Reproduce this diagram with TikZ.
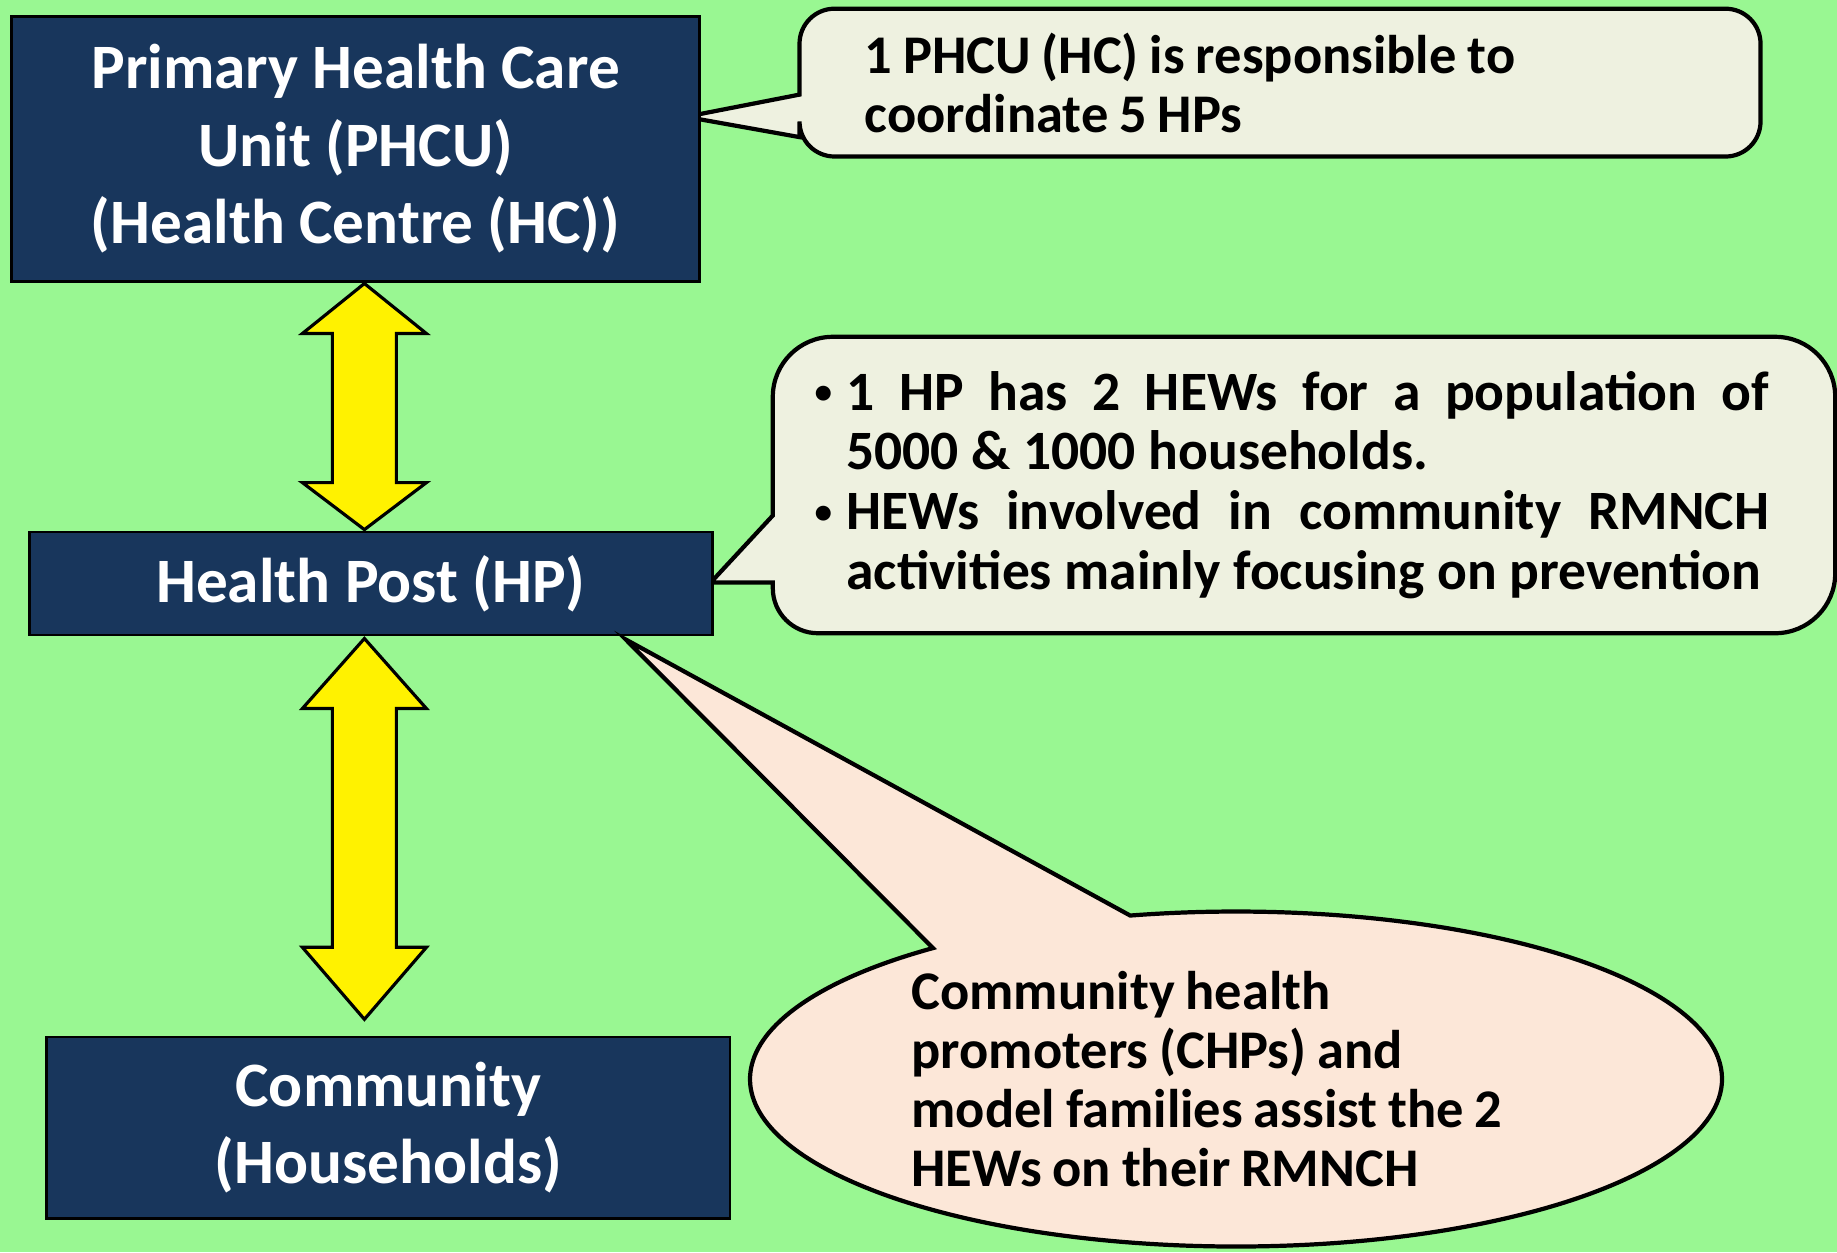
\documentclass[tikz,border=0pt]{standalone}
\usepackage{fontspec}
\setmainfont{Carlito}
\usepackage{tikz}
\usetikzlibrary{calc,shapes.callouts,backgrounds}
\definecolor{bggreen}{RGB}{153,247,146}
\definecolor{navy}{RGB}{24,54,92}
\definecolor{notefill}{RGB}{238,241,224}
\definecolor{peach}{RGB}{252,231,216}
\newcommand{\itembullet}{\makebox[0.32cm][l]{\raisebox{0.12em}{\fontsize{10}{10}\selectfont\textbullet}}}
\newcommand{\tightsp}{\spaceskip=0.2em plus 0.1em minus 0.05em\relax}

\begin{document}
\begin{tikzpicture}
    [level/.style={draw=black, line width=0.8pt, fill=navy, text=white, align=center,
       inner sep=0pt, font=\fontsize{18}{22}\selectfont\bfseries},
     note/.style={inner sep=0pt, font=\fontsize{15.5}{16.8}\selectfont\bfseries},
     bubble/.style={draw=black, line width=1.2pt, fill=notefill},
     yarrow/.style={draw=black, line width=0.9pt, fill=yellow, line join=miter}]
    \useasboundingbox (0,0) rectangle (18.37,-12.52);
    % background
    \begin{scope}[on background layer]
      \fill[bggreen] (0,0) rectangle (18.37,-12.52);
    \end{scope}
    % levels
    \node[level, minimum width=6.877cm, minimum height=2.648cm] (phcu) at (3.556,-1.488)
      {Primary Health Care\\Unit (PHCU)\\(Health Centre (HC))};
    \node[level, minimum width=6.830cm, minimum height=1.031cm] (hp) at (3.708,-5.835)
      {Health Post (HP)};
    \node[level, minimum width=6.830cm, minimum height=1.816cm] (comm) at (3.884,-11.277)
      {Community\\(Households)};
    % double arrows
    \coordinate (t1) at (3.644,-2.835);
    \coordinate (b1) at (3.644,-5.296);
    \coordinate (t2) at (3.644,-6.385);
    \coordinate (b2) at (3.644,-10.193);
    \draw[yarrow] (t1) -- ++(0.62,-0.50) -- ++(-0.30,0) -- ($(b1)+(0.32,0.47)$) -- ++(0.30,0)
      -- (b1) -- ++(-0.62,0.47) -- ++(0.30,0) -- ($(t1)+(-0.32,-0.50)$) -- ++(-0.30,0) -- cycle;
    \draw[yarrow] (t2) -- ++(0.62,-0.70) -- ++(-0.30,0) -- ($(b2)+(0.32,0.72)$) -- ++(0.30,0)
      -- (b2) -- ++(-0.62,0.72) -- ++(0.30,0) -- ($(t2)+(-0.32,-0.70)$) -- ++(-0.30,0) -- cycle;
    % note for PHCU
    \coordinate (tip1) at ($(phcu.east)+(-0.15,0.32)$);
    \node[note, minimum width=9.596cm, minimum height=1.464cm, inner xsep=0.644cm,
      text width=8.308cm, align=left] (note1) at (12.80,-0.826)
      {\tightsp 1 PHCU (HC) is responsible to\\coordinate 5 HPs};
    \begin{scope}[on background layer]
      \draw[bubble] (tip1) -- ($(note1.west)+(0,-0.12)$)
        {[rounded corners=0.35cm] -- (note1.north west) -- (note1.north east)
         -- (note1.south east) -- (note1.south west)} -- ($(note1.west)+(0,-0.545)$) -- cycle;
    \end{scope}
    % note for HP
    \coordinate (tip2) at ($(hp.east)+(-0.03,0.01)$);
    \node[note, font=\fontsize{15.8}{17}\selectfont\bfseries, minimum width=10.61cm,
      minimum height=2.95cm, inner xsep=0.41cm, text width=9.79cm, align=justify] (note2) at (13.04,-4.85)
      {\rightskip=0.245cm\relax
       \hangindent=0.32cm\hangafter=1\noindent\itembullet 1 HP has 2 HEWs
       for a population of\linebreak 5000 \& 1000 households.\par
       \hangindent=0.32cm\hangafter=1\noindent\itembullet HEWs involved in
       community RMNCH\linebreak activities mainly focusing on prevention\par};
    \begin{scope}[on background layer]
      \draw[bubble] (tip2) -- ($(note2.west)+(0,-0.305)$)
        {[rounded corners=0.6cm] -- (note2.north west) -- (note2.north east)
         -- (note2.south east)} {[rounded corners=0.45cm] -- (note2.south west)}
        -- ($(note2.west)+(0,-0.975)$) -- cycle;
    \end{scope}
    % note for community
    \coordinate (tip3) at ($(hp.south east)+(-0.88,-0.03)$);
    \node[note, ellipse callout, draw=black, line width=1.2pt, fill=peach,
      minimum width=9.72cm, minimum height=3.35cm, text width=6.49cm, align=left,
      callout absolute pointer=(tip3), callout pointer arc=26] (note3) at (12.36,-10.79)
      {\tightsp Community health\\promoters (CHPs) and\\model families assist the 2\\HEWs on their RMNCH};
  \end{tikzpicture}
\end{document}
